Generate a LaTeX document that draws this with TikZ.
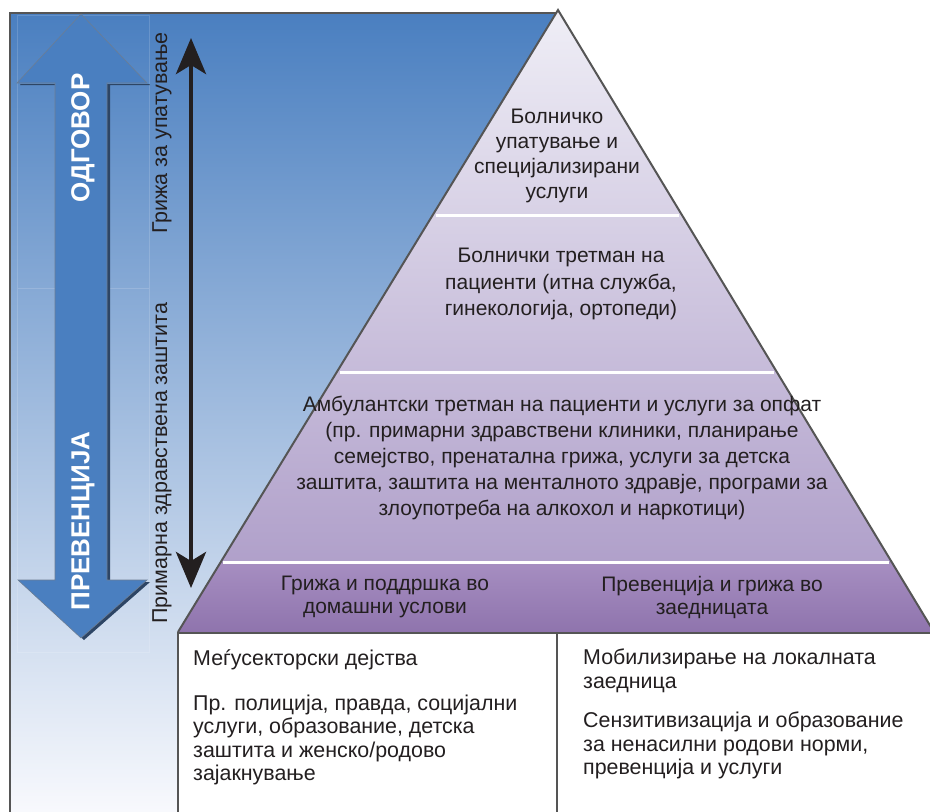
\documentclass[tikz,border=0pt]{standalone}
\usepackage{fontspec}
\setmainfont{Liberation Sans}
\usepackage{xcolor}
\usetikzlibrary{positioning, arrows.meta, calc}
\definecolor{topblue}{HTML}{4A7FC0}
\definecolor{midblue}{HTML}{8AA8D6}
\definecolor{paleblue}{HTML}{F8F9FD}
\definecolor{arrowblue}{HTML}{4A7FC0}
\definecolor{shadowblue}{HTML}{2D4565}
\definecolor{pyrtop}{HTML}{EFEEF6}
\definecolor{pyrmid}{HTML}{E2DDEC}
\definecolor{pyrlow}{HTML}{B0A0CA}
\definecolor{bandtop}{HTML}{A68EC1}
\definecolor{bandbot}{HTML}{8F74AD}
\definecolor{edgegray}{HTML}{555555}
\definecolor{inkgray}{HTML}{231F20}

\begin{document}
\begin{tikzpicture}[x=1pt, y=-1pt,
    every node/.style={font=\fontsize{21}{25}\selectfont, text=inkgray, inner sep=0pt},
    tiertext/.style={align=center},
    bandtext/.style={align=center, font=\fontsize{21}{23}\selectfont},
    boxtext/.style={align=left, font=\fontsize{21.4}{23.4}\selectfont, anchor=north west},
    sidelabel/.style={rotate=90, font=\fontsize{21.5}{24}\selectfont},
    biglabel/.style={rotate=90, text=white, font=\fontsize{26}{30}\selectfont\bfseries},
    divider/.style={white, line width=3pt, shorten <=3pt, shorten >=3pt},
    pyredge/.style={edgegray, line width=2pt},
    boxline/.style={edgegray, line width=2.5pt, fill=white},
    carearrow/.style={inkgray, line width=4.5pt, {Stealth[length=36pt, width=30pt, inset=9pt]}-{Stealth[length=36pt, width=30pt, inset=9pt]}}]

    \useasboundingbox (0,0) rectangle (930,812);
    \clip (0,0) rectangle (930,812);

    % Blue background panel
    \fill[top color=topblue, middle color=midblue, bottom color=paleblue] (10,13) rectangle (560,812);
    \draw[edgegray, line width=2pt] (10,812) -- (10,13) -- (560,13);
    \draw[white, opacity=0.15, line width=0.8pt] (17,15) rectangle (149,288) (17,288) rectangle (149,652);

    % Two-way arrow (response / prevention)
    \begin{scope}
      \clip (0,84) rectangle (170,700);
      \fill[shadowblue, shift={(3,2)}] (81,14) -- (147,83) -- (107,83) -- (107,580) -- (147,580) -- (81,638) -- (18,580) -- (55,580) -- (55,83) -- (17,83) -- cycle;
    \end{scope}
    \fill[arrowblue, draw=shadowblue!70, line width=0.6pt] (81,14) -- (147,83) -- (107,83) -- (107,580) -- (147,580) -- (81,638) -- (18,580) -- (55,580) -- (55,83) -- (17,83) -- cycle;
    \node[biglabel] (response) at (83,138) {ОДГОВОР};
    \node[biglabel] (prevention) at (83,521) {ПРЕВЕНЦИЈА};

    % Care axis
    \coordinate (careTop) at (191,38);
    \coordinate (careBot) at (191,588);
    \draw[carearrow] (careBot) -- (careTop);
    \node[sidelabel] (referralLabel) at (162,133) {Грижа за упатување};
    \node[sidelabel] (primaryLabel) at (162,463) {Примарна здравствена заштита};

    % Pyramid
    \coordinate (apex) at (558,10);
    \coordinate (baseL) at (178,632);
    \coordinate (baseR) at (934,632);
    \coordinate (cut1L) at ($(apex)!0.3296!(baseL)$);
    \coordinate (cut1R) at ($(apex)!0.3296!(baseR)$);
    \coordinate (cut2L) at ($(apex)!0.582!(baseL)$);
    \coordinate (cut2R) at ($(apex)!0.582!(baseR)$);
    \coordinate (cut3L) at ($(apex)!0.889!(baseL)$);
    \coordinate (cut3R) at ($(apex)!0.889!(baseR)$);
    \fill[top color=pyrtop, middle color=pyrmid, bottom color=pyrlow] (apex) -- (cut3L) -- (cut3R) -- cycle;
    \fill[top color=bandtop, bottom color=bandbot] (cut3L) -- (baseL) -- (baseR) -- (cut3R) -- cycle;
    \draw[divider] (cut1L) -- (cut1R);
    \draw[divider] (cut2L) -- (cut2R);
    \draw[divider] (cut3L) -- (cut3R);
    \draw[pyredge] (baseL) -- (apex) -- (baseR);

    % Pyramid tiers
    \node[tiertext] (referral) at (557,156) {Болничко\\упатување и\\специјализирани\\услуги};
    \node[tiertext, font=\fontsize{21}{26.5}\selectfont] (inpatient) at (561,284) {Болнички третман на\\пациенти (итна служба,\\гинекологија, ортопеди)};
    \node[tiertext, font=\fontsize{21}{26}\selectfont] (outpatient) at (562,458) {Амбулантски третман на пациенти и услуги за опфат\\(пр. примарни здравствени клиники, планирање\\семејство, пренатална грижа, услуги за детска\\заштита, заштита на менталното здравје, програми за\\злоупотреба на алкохол и наркотици)};
    \node[bandtext] (homecare) at (385,597) {Грижа и поддршка во\\домашни услови};
    \node[bandtext] (community) at (712,597) {Превенција и грижа во\\заедницата};

    % Boxes below the pyramid
    \draw[boxline] (178,633) rectangle (557,830);
    \draw[boxline] (557,633) rectangle (945,830);
    \node[boxtext] (sectorHead) at (193,650) {Меѓусекторски дејства};
    \node[boxtext, below right=24pt and 0pt of sectorHead.south west] (sectorBody) {Пр. полиција, правда, социјални\\услуги, образование, детска\\заштита и женско/родово\\зајакнување};
    \node[boxtext] (localHead) at (583,649) {Мобилизирање на локалната\\заедница};
    \node[boxtext, below right=19pt and 0pt of localHead.south west] (localBody) {Сензитивизација и образование\\за ненасилни родови норми,\\превенција и услуги};

\end{tikzpicture}
\end{document}
